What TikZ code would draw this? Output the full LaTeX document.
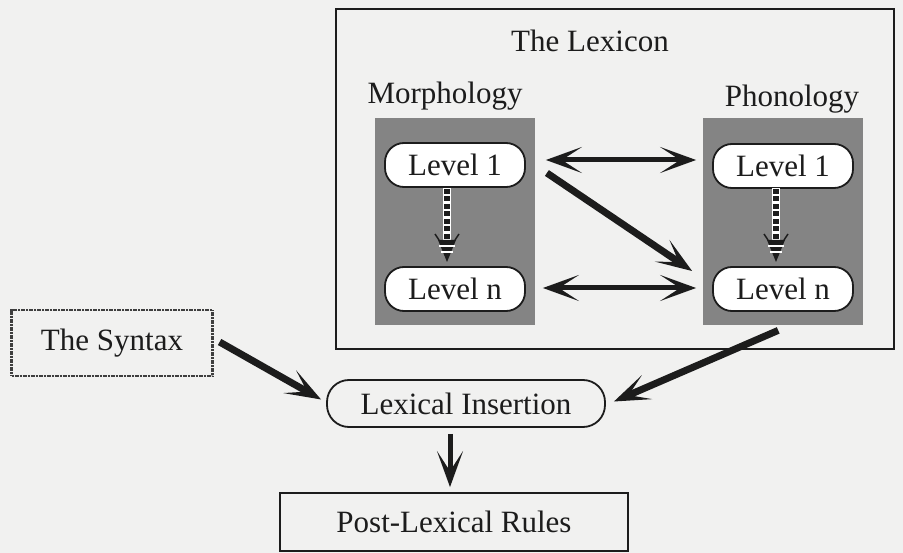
\documentclass[tikz,border=0pt]{standalone}
\usepackage{fontspec}
\setmainfont{Liberation Serif}
\usetikzlibrary{arrows.meta,calc}
\definecolor{paper}{RGB}{241,241,240}
\definecolor{panelgray}{RGB}{132,132,132}
\definecolor{ink}{RGB}{28,28,28}
\tikzset{
  txt/.style={font=\fontsize{31}{36}\selectfont, text=ink, inner sep=0pt},
  panel/.style={fill=panelgray, draw=none, minimum width=160pt, minimum height=207pt, anchor=north west, inner sep=0pt},
  levelbox/.style={draw=ink, line width=1.8pt, fill=white, rounded corners=19pt, minimum width=140pt, minimum height=44pt, inner sep=0pt, font=\fontsize{31}{36}\selectfont, text=ink},
  head/.tip={Stealth[length=36pt,width=26pt,inset=20pt]},
  bigarrow/.style={draw=ink, line width=6pt, -head},
  bigdarrow/.style={draw=ink, line width=5pt, head-head},
  dasharrow/.style={draw=ink, line width=6pt, dash pattern=on 5pt off 2.5pt},
}
\begin{document}
\begin{tikzpicture}[x=1pt,y=-1pt]
\fill[paper] (0,0) rectangle (903,553);
\useasboundingbox (0,0) rectangle (903,553);
\begin{scope}
\clip (0,0) rectangle (903,553);
\node[txt, anchor=base east] (title) at (197,-6.5) {Lexical Phonology};
\end{scope}
% lexicon box
\node[draw=ink, line width=1.8pt, minimum width=558pt, minimum height=340pt, anchor=north west, inner sep=0pt] (lexbox) at (335,8) {};
\node[txt, anchor=base] (lexicon) at (590,52) {The Lexicon};
\node[txt, anchor=base] (morph) at (445,104) {Morphology};
\node[txt, anchor=base] (phon) at (792,107) {Phonology};
% panels
\node[panel] (mpanel) at (375,118) {};
\node[panel] (ppanel) at (703,118) {};
% level boxes
\node[levelbox] (m1) at (455,165) {Level 1};
\node[levelbox] (mn) at (455,289) {Level n};
\node[levelbox] (p1) at (783,166) {Level 1};
\node[levelbox] (pn) at (783,289) {Level n};
% dashed internal arrows
\foreach \a/\b/\x in {m1/mn/447, p1/pn/776}{
  \draw[white, line width=8pt] (\x,188) -- (\x,245);
  \draw[dasharrow] (\x,189) -- (\x,244);
  \fill[ink] (\x-9,240) -- (\x+9,240) -- (\x,262) -- cycle;
  \draw[white, line width=1.2pt] (\x-8,246) -- (\x+8,246) (\x-6,252) -- (\x+6,252);
  \draw[ink, line width=1.5pt] (\x-12,234) -- (\x-8,240) (\x+12,234) -- (\x+8,240);
}
% arrows in lexicon
\draw[bigdarrow] ($(m1.east)+(20,-5)$) -- ($(p1.west)+(-16,-6)$);
\draw[bigarrow, line width=7pt] ($(m1.east)+(21,8)$) -- ($(pn.west)+(-20,-18)$);
\draw[bigdarrow] ($(mn.east)+(17,-1)$) -- ($(pn.west)+(-16,-1)$);
% syntax
\node[draw=ink!85, line width=2.2pt, dash pattern=on 1.2pt off 0.4pt, minimum width=201pt, minimum height=66pt, inner sep=0pt, font=\fontsize{31}{36}\selectfont, text=ink] (syntax) at (112,343) {The Syntax};
% lexical insertion
\node[levelbox, rounded corners=22pt, minimum width=278pt, minimum height=47pt, fill=none] (li) at (466,403.5) {Lexical Insertion};
% post-lexical
\node[draw=ink, line width=1.8pt, minimum width=348pt, minimum height=58pt, inner sep=0pt, font=\fontsize{31}{36}\selectfont, text=ink] (post) at (454,522) {Post-Lexical Rules};
% arrows to/from lexical insertion
\draw[bigarrow, line width=7pt] ($(syntax.east)+(6,-1)$) -- ($(li.west)+(-5,-4)$);
\draw[bigarrow, line width=7pt] ($(ppanel.south)+(-5,5)$) -- ($(li.east)+(8,-2)$);
\draw[bigarrow, line width=5pt] ($(li.south)+(-16,6)$) -- ($(post.north)+(-4,-5)$);
\end{tikzpicture}
\end{document}
